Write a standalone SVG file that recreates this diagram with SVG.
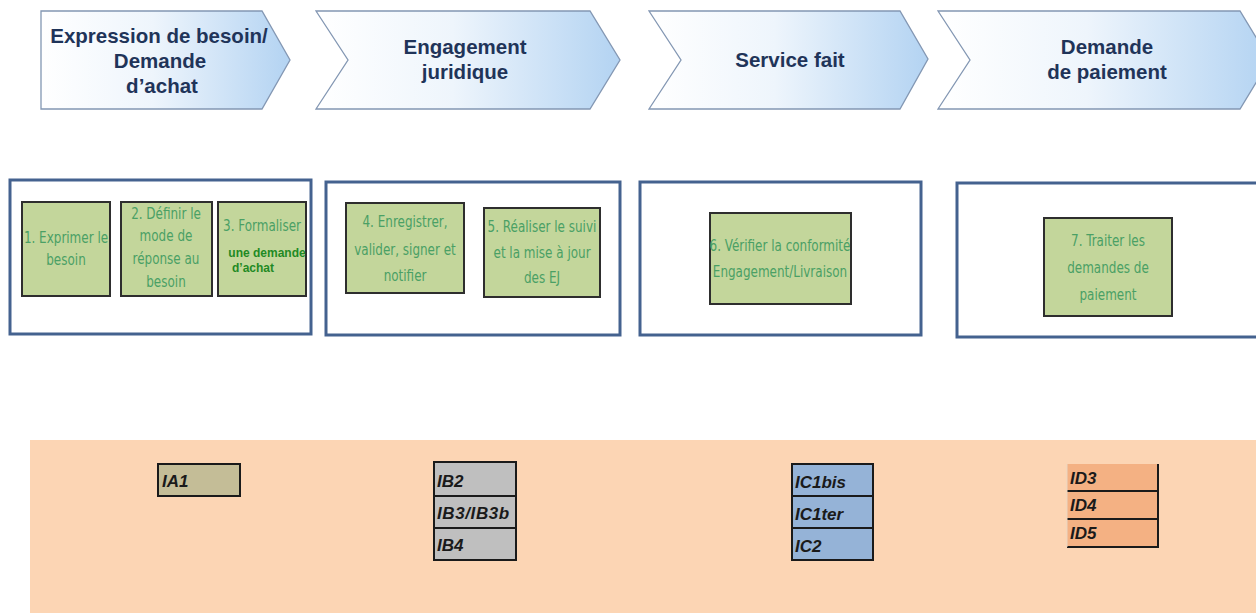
<svg xmlns="http://www.w3.org/2000/svg" width="1256" height="613" viewBox="0 0 1256 613">
<defs>
<linearGradient id="chev" x1="0" y1="0" x2="1" y2="0">
<stop offset="0" stop-color="#ffffff"/>
<stop offset="0.45" stop-color="#eef5fc"/>
<stop offset="1" stop-color="#b3d3f2"/>
</linearGradient>
<style>
.chev{fill:url(#chev);stroke:#8397b3;stroke-width:1.3}
.ct{font-family:"Liberation Sans",Arial,sans-serif;font-weight:bold;font-size:20.5px;fill:#1f3459;text-anchor:middle}
.frame{fill:#ffffff;stroke:#44628f;stroke-width:3}
.step{fill:#c3d69b;stroke:#2e2e2e;stroke-width:2}
.st{font-family:"DejaVu Sans Condensed","Liberation Sans Narrow","Liberation Sans",sans-serif;font-size:15.5px;fill:#4aa065;text-anchor:middle;transform-box:fill-box;transform-origin:center;transform:scaleX(0.86)}
.st2{font-family:"Liberation Sans",Arial,sans-serif;font-weight:bold;font-size:12px;fill:#1f8a24;text-anchor:middle}
.it{font-family:"Liberation Sans",Arial,sans-serif;font-weight:bold;font-style:italic;font-size:17px;fill:#1a1a1a}
.cell{stroke:#1a1a1a;stroke-width:2}
</style>
</defs>
<rect x="0" y="0" width="1256" height="613" fill="#ffffff"/>

<g id="phase1">
<polygon class="chev" points="41,11 262,11 290,60 262,109 41,109"/>
<text class="ct" x="159" y="43">Expression de besoin/</text>
<text class="ct" x="160" y="68">Demande</text>
<text class="ct" x="162" y="93">d’achat</text>
</g>
<g id="phase2">
<polygon class="chev" points="316,11 590,11 620,60 590,109 316,109 348,60"/>
<text class="ct" x="465" y="54">Engagement</text>
<text class="ct" x="465" y="79">juridique</text>
</g>
<g id="phase3">
<polygon class="chev" points="649,11 900,11 928,59 900,109 649,109 681,60"/>
<text class="ct" x="790" y="67">Service fait</text>
</g>
<g id="phase4">
<polygon class="chev" points="938,11 1240,11 1270,60 1240,109 938,109 970,60"/>
<text class="ct" x="1107" y="54">Demande</text>
<text class="ct" x="1107" y="79">de paiement</text>
</g>

<g id="frameA"><rect class="frame" x="10" y="180" width="301" height="154"/></g>
<g id="frameB"><rect class="frame" x="326" y="182" width="294" height="153"/></g>
<g id="frameC"><rect class="frame" x="640" y="182" width="281" height="153"/></g>
<g id="frameD"><rect class="frame" x="957" y="183" width="310" height="154"/></g>

<g id="step1">
<rect class="step" x="22" y="202" width="88" height="94"/>
<text class="st" x="66" y="243">1. Exprimer le</text>
<text class="st" x="66" y="265">besoin</text>
</g>
<g id="step2">
<rect class="step" x="121" y="202" width="91" height="94"/>
<text class="st" x="166" y="219">2. Définir le</text>
<text class="st" x="166" y="241">mode de</text>
<text class="st" x="166" y="264">réponse au</text>
<text class="st" x="166" y="287">besoin</text>
</g>
<g id="step3">
<rect class="step" x="218" y="202" width="88" height="94"/>
<text class="st" x="262" y="231">3. Formaliser</text>
<text class="st2" x="267" y="257">une demande</text>
<text class="st2" x="253" y="272">d’achat</text>
</g>
<g id="step4">
<rect class="step" x="346" y="203" width="118" height="90"/>
<text class="st" x="405" y="227">4. Enregistrer,</text>
<text class="st" x="405" y="255">valider, signer et</text>
<text class="st" x="405" y="281">notifier</text>
</g>
<g id="step5">
<rect class="step" x="484" y="208" width="116" height="89"/>
<text class="st" x="542" y="232">5. Réaliser le suivi</text>
<text class="st" x="542" y="258">et la mise à jour</text>
<text class="st" x="542" y="283">des EJ</text>
</g>
<g id="step6">
<rect class="step" x="710" y="213" width="141" height="91"/>
<text class="st" x="780" y="251">6. Vérifier la conformité</text>
<text class="st" x="780" y="277">Engagement/Livraison</text>
</g>
<g id="step7">
<rect class="step" x="1044" y="218" width="128" height="98"/>
<text class="st" x="1108" y="246">7. Traiter les</text>
<text class="st" x="1108" y="273">demandes de</text>
<text class="st" x="1108" y="300">paiement</text>
</g>

<g id="band"><rect x="30" y="440" width="1226" height="173" fill="#fcd5b4"/></g>

<g id="IA">
<rect class="cell" x="158" y="464" width="82" height="32" fill="#c4bd97"/>
<text class="it" x="162" y="487">IA1</text>
</g>
<g id="IB">
<rect class="cell" x="434" y="462" width="82" height="34" fill="#bfbfbf"/>
<rect class="cell" x="434" y="496" width="82" height="32" fill="#bfbfbf"/>
<rect class="cell" x="434" y="528" width="82" height="32" fill="#bfbfbf"/>
<text class="it" x="437" y="487">IB2</text>
<text class="it" x="437" y="519" letter-spacing="0.6">IB3/IB3b</text>
<text class="it" x="437" y="551">IB4</text>
</g>
<g id="IC">
<rect class="cell" x="792" y="464" width="81" height="32" fill="#95b3d7"/>
<rect class="cell" x="792" y="496" width="81" height="32" fill="#95b3d7"/>
<rect class="cell" x="792" y="528" width="81" height="32" fill="#95b3d7"/>
<text class="it" x="795" y="488">IC1bis</text>
<text class="it" x="795" y="520">IC1ter</text>
<text class="it" x="795" y="552">IC2</text>
</g>
<g id="ID">
<rect x="1067" y="464" width="91" height="83" fill="#f4b183"/>
<path d="M1158,464 V547 H1067 M1067,491 H1158 M1067,519 H1158" fill="none" stroke="#1a1a1a" stroke-width="2"/>
<path d="M1067,464 V547" fill="none" stroke="#e8d6c4" stroke-width="1"/>
<text class="it" x="1070" y="484">ID3</text>
<text class="it" x="1070" y="511">ID4</text>
<text class="it" x="1070" y="539">ID5</text>
</g>
<g id="connectors"></g>
</svg>
